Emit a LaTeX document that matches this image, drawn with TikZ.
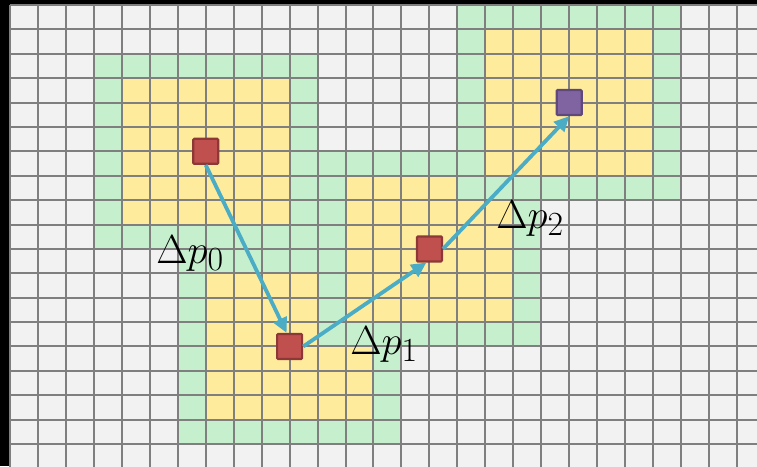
\documentclass[tikz,border=0pt]{standalone}
\usetikzlibrary{arrows.meta}
\definecolor{gridgray}{HTML}{7F7F7F}
\definecolor{cellgray}{HTML}{F2F2F2}
\definecolor{cellgreen}{HTML}{C6EFCE}
\definecolor{cellyellow}{HTML}{FFEB9C}
\definecolor{ptred}{HTML}{C0504D}
\definecolor{ptredb}{HTML}{8C3836}
\definecolor{ptpurple}{HTML}{8064A2}
\definecolor{ptpurpleb}{HTML}{5F497A}
\definecolor{arrowblue}{HTML}{4BACC6}
\tikzset{
  gridline/.style={draw=gridgray, line width=2pt},
  greenfill/.style={fill=cellgreen},
  yellowfill/.style={fill=cellyellow},
  redpt/.style={rectangle, draw=ptredb, fill=ptred, line width=2.2pt, minimum width=25pt, minimum height=25pt, inner sep=0pt, rounded corners=1pt},
  purplept/.style={redpt, draw=ptpurpleb, fill=ptpurple},
  offarrow/.style={draw=arrowblue, line width=3.8pt, -{Triangle[length=15pt,width=14pt]}},
  lab/.style={inner sep=0pt, anchor=base west, scale=1.63, transform shape, font=\fontsize{24.88}{26}\selectfont}
}
\begin{document}
\begin{tikzpicture}[x=1pt,y=-1pt]
\useasboundingbox (0,0) rectangle (757,466);
\clip (0,0) rectangle (757,466);
\fill[black] (0,0) rectangle (757,466);
\fill[cellgray] (10,5) rectangle (760,470);
\begin{scope}[shift={(10pt,-5pt)}, x=27.96pt, y=-24.39pt]
  % region A
  \fill[greenfill] (3,2) rectangle (11,10);
  \fill[yellowfill] (4,3) rectangle (10,9);
  % region B
  \fill[greenfill] (6,10) rectangle (14,18);
  \fill[yellowfill] (7,11) rectangle (13,17);
  % region C
  \fill[greenfill] (11,6) rectangle (19,14);
  \fill[yellowfill] (12,7) rectangle (18,13);
  % region D
  \fill[greenfill] (16,0) rectangle (24,8);
  \fill[yellowfill] (17,1) rectangle (23,7);
  % grid
  \foreach \c in {0,...,26} \draw[gridline] (\c,0) -- (\c,20);
  \foreach \r in {0,...,18} \draw[gridline] (0,\r) -- (28,\r);
  % points
  \node[redpt] (p0) at (7,6) {};
  \node[redpt] (p1) at (10,14) {};
  \node[redpt] (p2) at (15,10) {};
  \node[purplept] (p3) at (20,4) {};
\end{scope}
\draw[offarrow] (p0.south) -- ([xshift=-3pt]p1.north);
\draw[offarrow] (p1.east) -- ([xshift=-3pt]p2.south);
\draw[offarrow] (p2.east) -- (p3.south);
\node[lab] (l0) at (156,263) {$\Delta p_0$};
\node[lab] (l1) at (350,354) {$\Delta p_1$};
\node[lab] (l2) at (496,228) {$\Delta p_2$};
\end{tikzpicture}
\end{document}
